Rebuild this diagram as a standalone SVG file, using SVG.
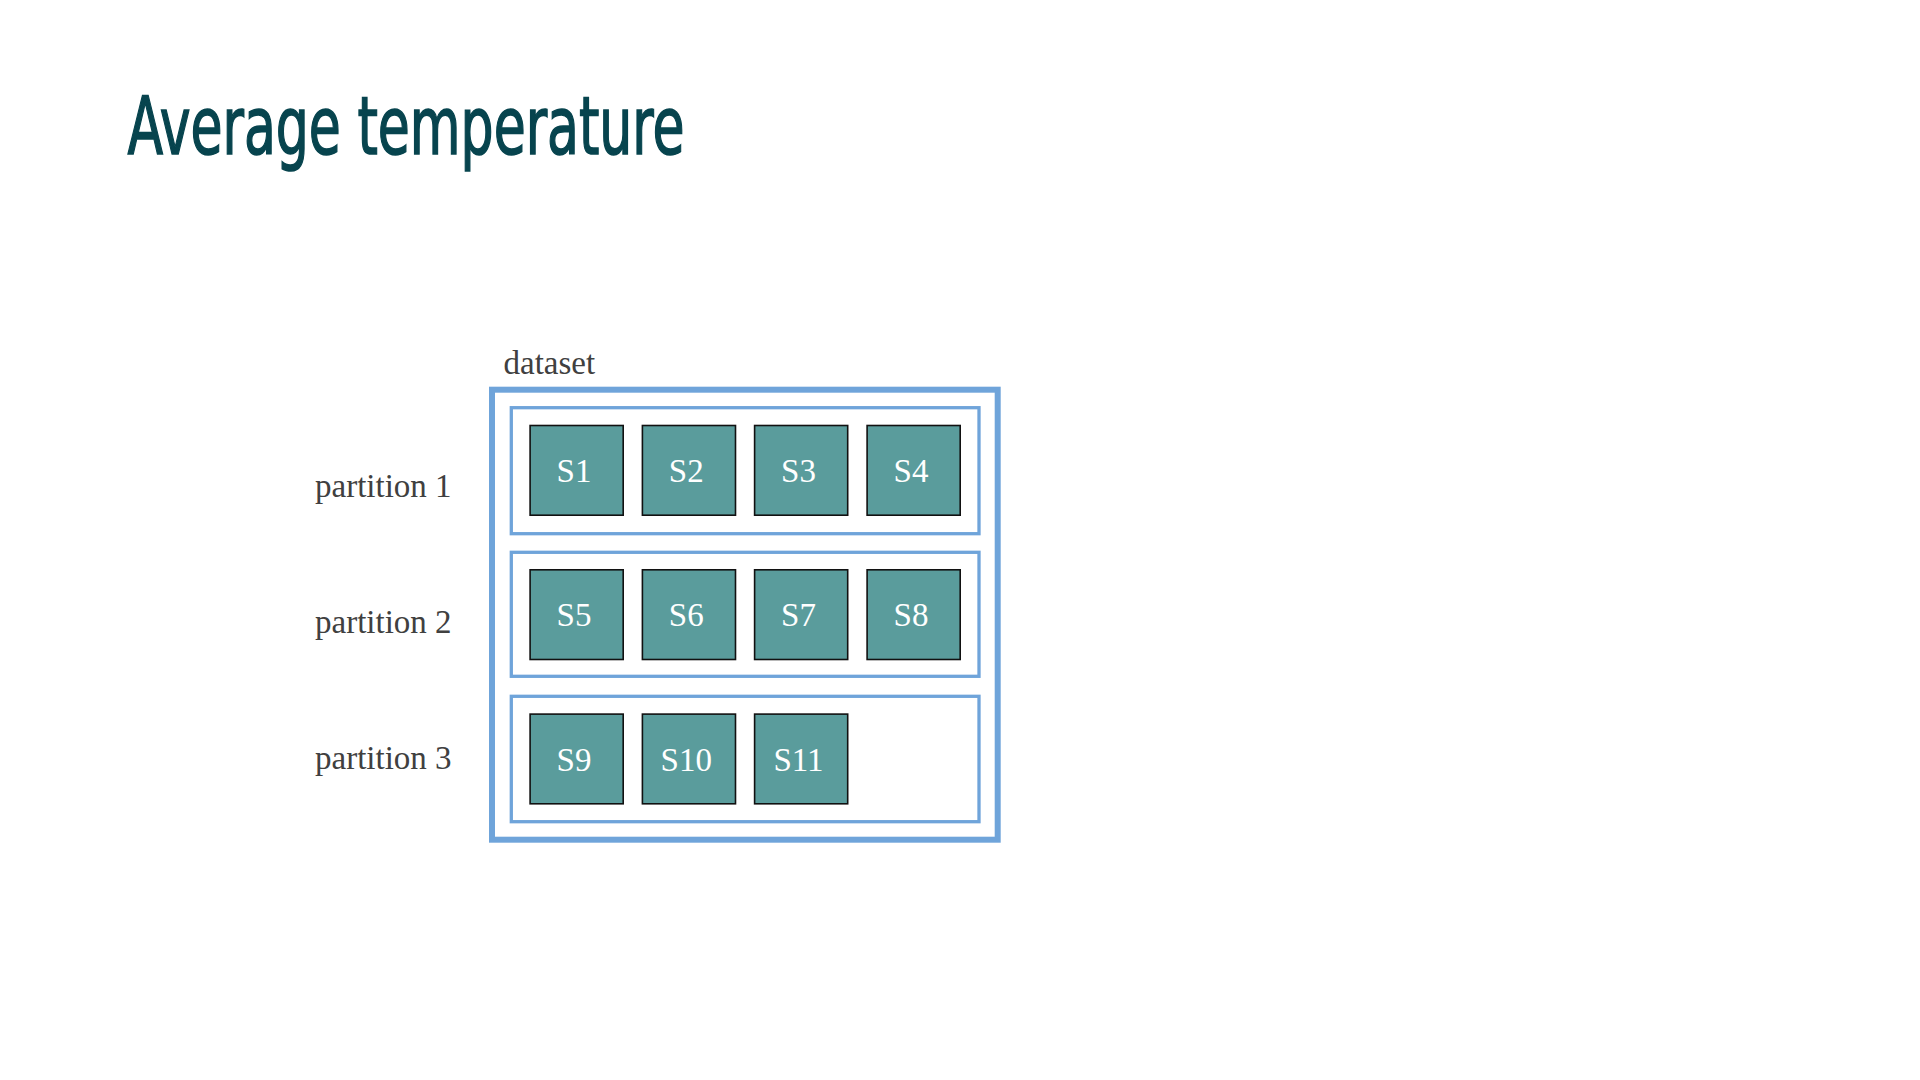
<svg xmlns="http://www.w3.org/2000/svg" width="1920" height="1080" viewBox="0 0 1920 1080">
<style>
.title{font-family:"DejaVu Sans Condensed","DejaVu Sans",sans-serif;font-stretch:condensed;font-size:80px;fill:#07444e;stroke:#07444e;stroke-width:1.5}
.lbl{font-family:"Liberation Serif",serif;font-size:33px;fill:#404040}
.part{fill:#ffffff;stroke:#6fa4da;stroke-width:3.3}
.sq{fill:#5a9c9c;stroke:#111111;stroke-width:1.6}
.st{font-family:"Liberation Serif",serif;font-size:33px;fill:#ffffff;text-anchor:middle}
</style>
<rect width="1920" height="1080" fill="#ffffff"/>
<text class="title" x="127.5" y="153.5" textLength="557" lengthAdjust="spacingAndGlyphs">Average temperature</text>
<g id="dataset">
<rect x="492" y="389.7" width="505.7" height="450" fill="none" stroke="#6fa4da" stroke-width="6"/>
<text class="lbl" x="503.5" y="374">dataset</text>
</g>
<text class="lbl" x="315" y="497">partition 1</text>
<text class="lbl" x="315" y="633">partition 2</text>
<text class="lbl" x="315" y="769">partition 3</text>
<g id="partition1"><rect class="part" x="511.3" y="407.7" width="467.7" height="126"/></g>
<g id="partition2"><rect class="part" x="511.3" y="552.3" width="467.7" height="124"/></g>
<g id="partition3"><rect class="part" x="511.3" y="696.3" width="467.7" height="125.4"/></g>
<g id="S1"><rect class="sq" x="530.1" y="425.5" width="93.1" height="89.7"/><text class="st" x="574" y="481.7">S1</text></g>
<g id="S2"><rect class="sq" x="642.4" y="425.5" width="93.1" height="89.7"/><text class="st" x="686.3" y="481.7">S2</text></g>
<g id="S3"><rect class="sq" x="754.6" y="425.5" width="93.1" height="89.7"/><text class="st" x="798.5" y="481.7">S3</text></g>
<g id="S4"><rect class="sq" x="867.1" y="425.5" width="93.1" height="89.7"/><text class="st" x="911" y="481.7">S4</text></g>
<g id="S5"><rect class="sq" x="530.1" y="569.8" width="93.1" height="89.7"/><text class="st" x="574" y="625.7">S5</text></g>
<g id="S6"><rect class="sq" x="642.4" y="569.8" width="93.1" height="89.7"/><text class="st" x="686.3" y="625.7">S6</text></g>
<g id="S7"><rect class="sq" x="754.6" y="569.8" width="93.1" height="89.7"/><text class="st" x="798.5" y="625.7">S7</text></g>
<g id="S8"><rect class="sq" x="867.1" y="569.8" width="93.1" height="89.7"/><text class="st" x="911" y="625.7">S8</text></g>
<g id="S9"><rect class="sq" x="530.1" y="714.1" width="93.1" height="89.7"/><text class="st" x="574" y="770.7">S9</text></g>
<g id="S10"><rect class="sq" x="642.4" y="714.1" width="93.1" height="89.7"/><text class="st" x="686.3" y="770.7">S10</text></g>
<g id="S11"><rect class="sq" x="754.6" y="714.1" width="93.1" height="89.7"/><text class="st" x="798.5" y="770.7">S11</text></g>
<g id="connectors"/>
</svg>
